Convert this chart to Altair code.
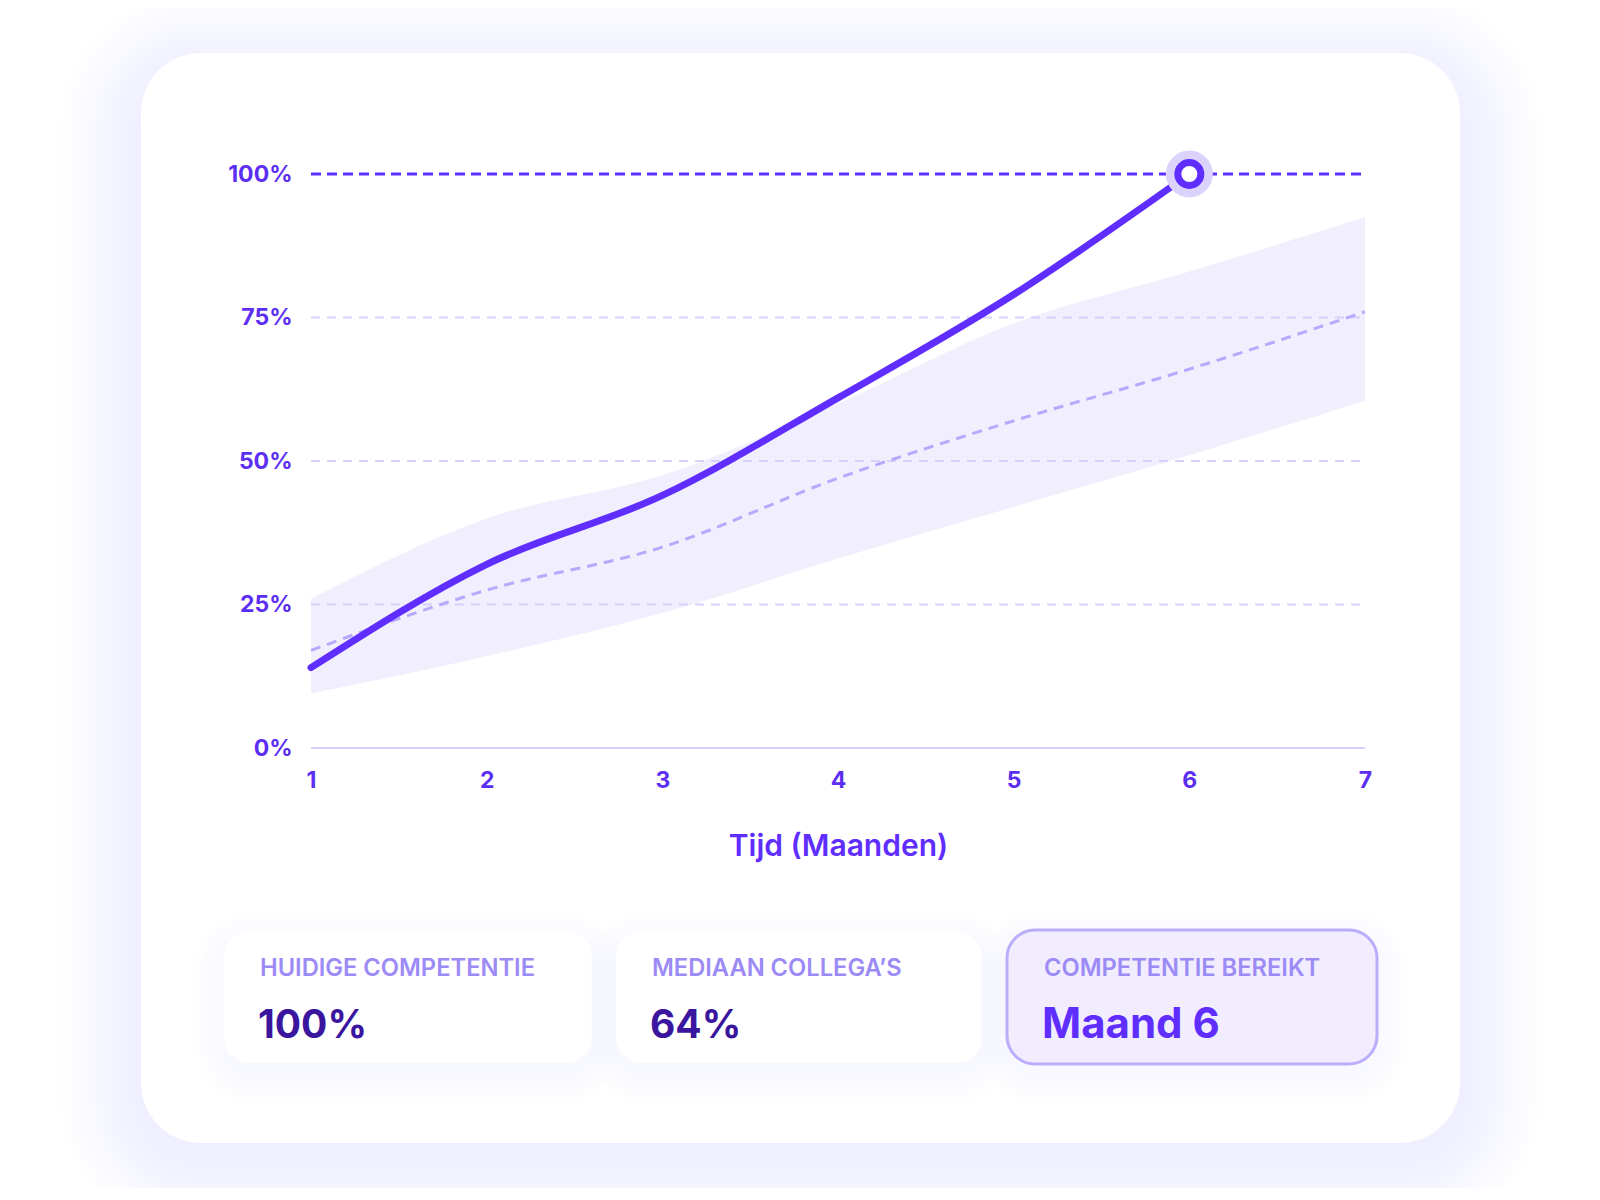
import altair as alt
import pandas as pd

# ---------------- data ----------------
months = [1, 2, 3, 4, 5, 6, 7]
user_months = [1, 2, 3, 4, 5, 6]
user_pct = [14, 32, 44, 61, 79, 100]
median_pct = [17, 27.5, 35, 47, 57, 66, 76]
band_low = [9.5, 16, 23.5, 33, 42, 51, 60.5]
band_high = [26, 40, 47.5, 60, 74, 83, 92.5]
grid_levels = [25, 50, 75]
target_level = [100]
base_level = [0]
x_ticks = [1, 2, 3, 4, 5, 6, 7]
y_ticks = [0, 25, 50, 75, 100]
reached_month = [6]
reached_pct = [100]
card_labels = ["HUIDIGE COMPETENTIE", "MEDIAAN COLLEGA\u2019S", "COMPETENTIE BEREIKT"]
card_values = ["100%", "64%", "Maand 6"]
x_title = "Tijd (Maanden)"

# ---------------- style ----------------
PURPLE = "#5F2EFF"
LABEL_PURPLE = "#5B2EF2"
GRID = "#D8D1FC"
BAND = "#F1EFFD"
MEDIAN = "#B8A9FC"
GLOW = "#7A69EE"
FONT = "Inter"

PLOT_W, PLOT_H = 1054, 574
PAD = {"left": 303, "top": 166, "right": 223, "bottom": 440}

xs = alt.Scale(domain=[months[0], months[-1]], nice=False, zero=False)
ys = alt.Scale(domain=[0, 100], nice=False, zero=True)

x_axis = alt.Axis(
    values=x_ticks, format="d", title=x_title, grid=False, domain=False, ticks=False,
    tickSize=0, labelFlush=False, labelAlign="center", labelBaseline="middle",
    labelPadding=32, labelFont=FONT, labelFontSize=23, labelFontWeight=700,
    labelColor=LABEL_PURPLE, titleFont=FONT, titleFontSize=30, titleFontWeight=600,
    titleColor=PURPLE, titleBaseline="middle", titleY=98, zindex=1,
)
y_axis = alt.Axis(
    values=y_ticks, title=None, grid=False, domain=False, ticks=False, tickSize=0,
    labelExpr="datum.value + '%'", labelFlush=False, labelBaseline="middle",
    labelPadding=19, labelFont=FONT, labelFontSize=23, labelFontWeight=700,
    labelColor=LABEL_PURPLE, zindex=1,
)


def X(field):
    return alt.X(field, type="quantitative", scale=xs, axis=x_axis)


def Y(field):
    return alt.Y(field, type="quantitative", scale=ys, axis=y_axis)


one = alt.Data(values=[{}])


def deco_rect(x0, x1, y0, y1, **kw):
    return alt.Chart(one).mark_rect(**kw).encode(
        x=alt.value(x0), x2=alt.value(x1), y=alt.value(y0), y2=alt.value(y1)
    )


layers = []

# soft outer glow of the main card
CARD = (-170, 1149, -121, 969)
for k in range(16, 0, -1):
    e = 5 * k
    layers.append(deco_rect(CARD[0] - e, CARD[1] + e, CARD[2] - e + 18, CARD[3] + e + 14,
                            color=GLOW, opacity=0.008, cornerRadius=60 + e))
layers.append(deco_rect(*CARD, color="white", cornerRadius=60))

# data frames
band_df = pd.DataFrame({"month": months, "low": band_low, "high": band_high})
median_df = pd.DataFrame({"month": months, "pct": median_pct})
user_df = pd.DataFrame({"month": user_months, "pct": user_pct})
grid_df = pd.DataFrame({"level": grid_levels, "x0": months[0], "x1": months[-1]})
target_df = pd.DataFrame({"level": target_level, "x0": months[0], "x1": months[-1]})
base_df = pd.DataFrame({"level": base_level, "x0": months[0], "x1": months[-1]})
point_df = pd.DataFrame({"month": reached_month, "pct": reached_pct})

layers.append(
    alt.Chart(band_df).mark_area(color=BAND, interpolate="monotone").encode(
        x=X("month"), y=Y("low"), y2="high"
    )
)
layers.append(
    alt.Chart(grid_df).mark_rule(color=GRID, strokeWidth=2, strokeDash=[9, 7]).encode(
        y=Y("level"), x=X("x0"), x2="x1"
    )
)
layers.append(
    alt.Chart(base_df).mark_rule(color="#D6CFFB", strokeWidth=2).encode(
        y=Y("level"), x=X("x0"), x2="x1"
    )
)
layers.append(
    alt.Chart(target_df).mark_rule(color=PURPLE, strokeWidth=3, strokeDash=[10, 6]).encode(
        y=Y("level"), x=X("x0"), x2="x1"
    )
)
layers.append(
    alt.Chart(median_df).mark_line(color=MEDIAN, strokeWidth=3, strokeDash=[10, 7],
                                   interpolate="monotone").encode(x=X("month"), y=Y("pct"))
)
layers.append(
    alt.Chart(user_df).mark_line(color=PURPLE, strokeWidth=7, strokeCap="round",
                                 interpolate="monotone").encode(x=X("month"), y=Y("pct"))
)
layers.append(
    alt.Chart(point_df).mark_circle(size=2209, color="#DCD3FD", opacity=1).encode(
        x=X("month"), y=Y("pct")
    )
)
layers.append(
    alt.Chart(point_df).mark_point(shape="circle", filled=True, fill="white", stroke=PURPLE,
                                   strokeWidth=7, size=530, opacity=1).encode(
        x=X("month"), y=Y("pct")
    )
)

# stat cards
card_x = [(-87, 281), (305, 671), (696, 1066)]
card_y = (757, 889)
text_x = [-51, 341, 733]
value_size = [39, 39, 42]
for i, (lab, val) in enumerate(zip(card_labels, card_values)):
    x0, x1 = card_x[i]
    for k in range(7, 0, -1):
        e = 4 * k
        layers.append(deco_rect(x0 - e, x1 + e, card_y[0] - e + 10, card_y[1] + e + 10,
                                color=GLOW, opacity=0.007, cornerRadius=26 + e))
    if i == 2:
        layers.append(deco_rect(x0, x1, card_y[0] - 1, card_y[1] + 1, fill="#F1EDFE",
                                stroke="#BBADFA", strokeWidth=3, cornerRadius=28))
        val_color = PURPLE
    else:
        layers.append(deco_rect(x0, x1, card_y[0], card_y[1], color="white", cornerRadius=26))
        val_color = "#3A169F"
    row = alt.Data(values=[{"label": lab, "value": val}])
    layers.append(
        alt.Chart(row).mark_text(align="left", baseline="alphabetic", font=FONT, fontSize=23.7,
                                 fontWeight=600, color="#9C8AF6").encode(
            x=alt.value(text_x[i]), y=alt.value(802), text=alt.Text("label:N")
        )
    )
    layers.append(
        alt.Chart(row).mark_text(align="left", baseline="alphabetic", font=FONT,
                                 fontSize=value_size[i], fontWeight=700, color=val_color).encode(
            x=alt.value(text_x[i] - 2), y=alt.value(864), text=alt.Text("value:N")
        )
    )

chart = alt.layer(*layers).properties(
    width=PLOT_W, height=PLOT_H, padding=PAD,
    autosize=alt.AutoSizeParams(type="none"), background="white",
).configure_view(strokeWidth=0)

chart.save("out.html", embed_options={"renderer": "svg", "actions": False})
